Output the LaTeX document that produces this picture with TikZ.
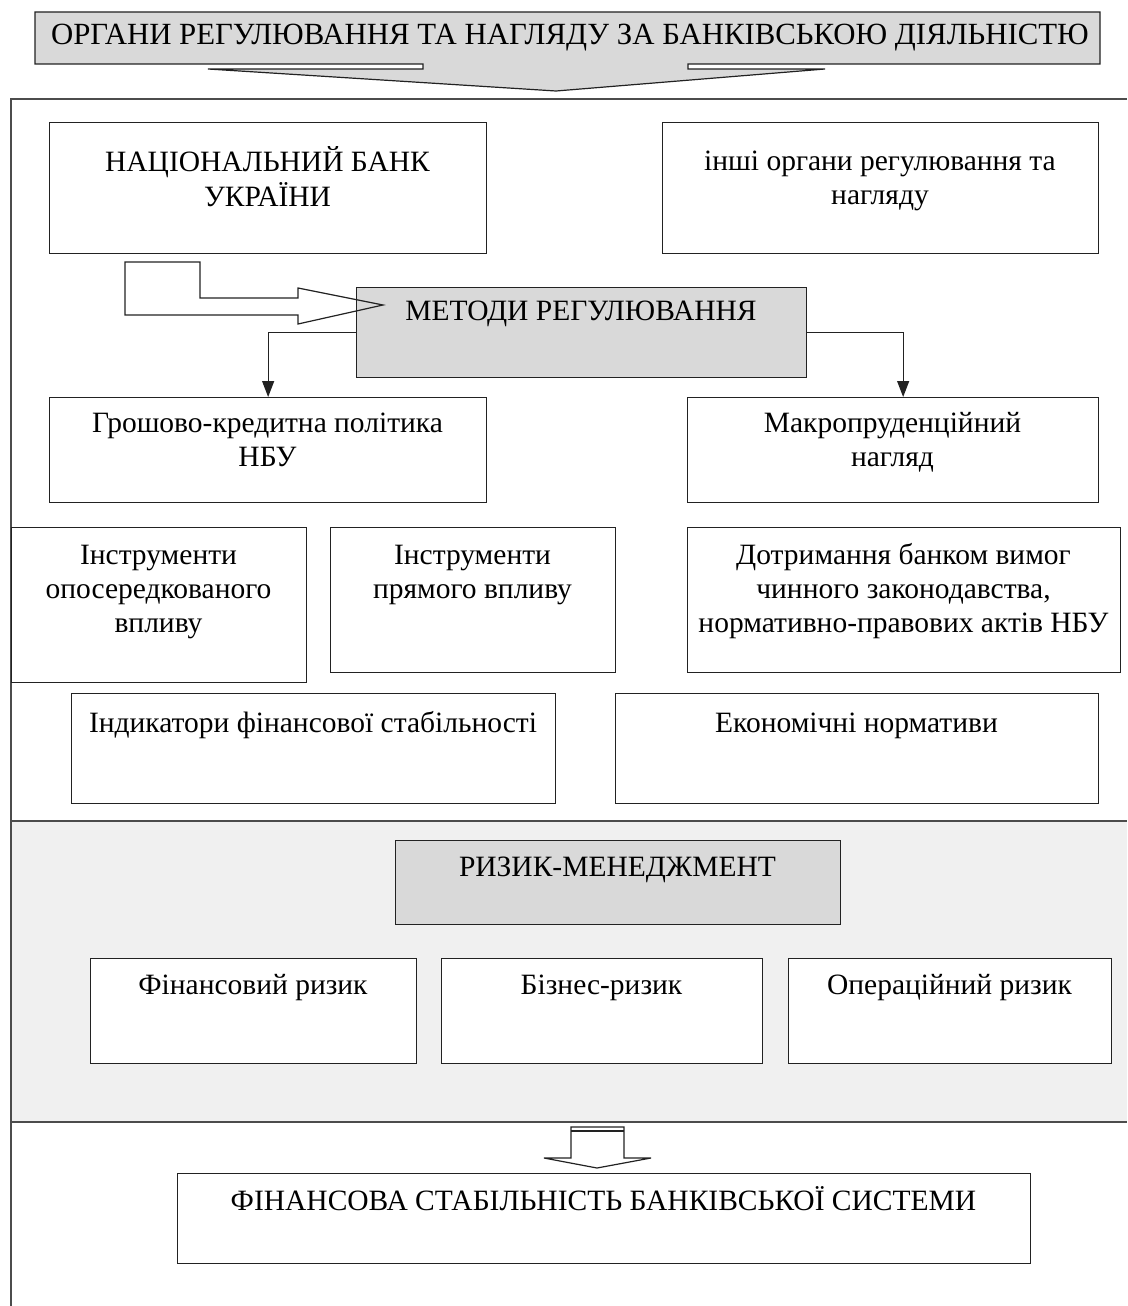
\documentclass[tikz,border=0pt]{standalone}
\usepackage{fontspec}
\setmainfont{Liberation Serif}
\usetikzlibrary{arrows.meta,calc}
\definecolor{boxgray}{HTML}{D9D9D9}
\definecolor{bandgray}{HTML}{F0F0F0}
\definecolor{edge}{HTML}{222222}
\begin{document}
\begin{tikzpicture}[x=1pt,y=-1pt,
  box/.style={draw=edge, line width=1.3pt, fill=white, inner sep=0pt, anchor=north west},
  graybox/.style={box, fill=boxgray},
  txt/.style={inner sep=0pt, anchor=north, align=center, font=\fontsize{29.5}{34}\selectfont},
  frameline/.style={draw=black!70, line width=1.6pt},
  conn/.style={draw=edge, line width=1.2pt, -{Triangle[length=16pt,width=12pt]}},
  hollow/.style={draw=edge, line width=1.2pt, line join=miter}
]
\useasboundingbox (0,0) rectangle (1127,1306);

% background band and frame
\fill[bandgray] (11,821) rectangle (1127,1122);
\draw[frameline] (11,1306) -- (11,99) -- (1127,99);
\draw[frameline] (11,821) -- (1127,821);
\draw[frameline] (11,1122) -- (1127,1122);

% top callout arrow
\draw[hollow, fill=boxgray] (35,12) -- (1100,12) -- (1100,64) -- (688,64) -- (688,69) -- (825,69)
  -- (556,91) -- (208,69) -- (423,69) -- (423,64) -- (35,64) -- cycle;
\node[inner sep=0pt, font=\fontsize{30.8}{34}\selectfont] (title) at (570,38)
  {ОРГАНИ РЕГУЛЮВАННЯ ТА НАГЛЯДУ ЗА БАНКІВСЬКОЮ ДІЯЛЬНІСТЮ};

% boxes
\node[box, minimum width=437pt, minimum height=131pt] (nbu) at (49,122) {};
\node[txt] (nbut) at (267.5,146) {\strut НАЦІОНАЛЬНИЙ БАНК\\УКРАЇНИ};
\node[box, minimum width=436pt, minimum height=131pt] (inshi) at (662,122) {};
\node[txt] (inshit) at (880,146) {\strut інші органи регулювання та\\нагляду};

\node[graybox, minimum width=450pt, minimum height=90pt] (meth) at (356,287) {};
\node[txt] (metht) at (581,296) {\strut МЕТОДИ РЕГУЛЮВАННЯ};

\node[box, minimum width=437pt, minimum height=105pt] (gro) at (49,397) {};
\node[txt] (grot) at (267.5,408) {\strut Грошово-кредитна політика\\НБУ};
\node[box, minimum width=411pt, minimum height=105pt] (mak) at (687,397) {};
\node[txt] (makt) at (892.5,408) {\strut Макропруденційний\\нагляд};

\node[box, minimum width=295pt, minimum height=155pt] (io) at (11,527) {};
\node[txt] (iot) at (158.5,540) {\strut Інструменти\\опосередкованого\\впливу};
\node[box, minimum width=285pt, minimum height=145pt] (ip) at (330,527) {};
\node[txt] (ipt) at (472.5,540) {\strut Інструменти\\прямого впливу};
\node[box, minimum width=433pt, minimum height=145pt] (dot) at (687,527) {};
\node[txt] (dott) at (903.5,540) {\strut Дотримання банком вимог\\чинного законодавства,\\нормативно-правових актів НБУ};

\node[box, minimum width=484pt, minimum height=110pt] (ind) at (71,693) {};
\node[txt] (indt) at (313,708) {\strut Індикатори фінансової стабільності};
\node[box, minimum width=483pt, minimum height=110pt] (eko) at (615,693) {};
\node[txt] (ekot) at (856.5,708) {\strut Економічні нормативи};

\node[graybox, minimum width=445pt, minimum height=84pt] (riz) at (395,840) {};
\node[txt] (rizt) at (617.5,852) {\strut РИЗИК-МЕНЕДЖМЕНТ};

\node[box, minimum width=326pt, minimum height=105pt] (fin) at (90,958) {};
\node[txt] (fint) at (253,970) {\strut Фінансовий ризик};
\node[box, minimum width=321pt, minimum height=105pt] (biz) at (441,958) {};
\node[txt] (bizt) at (601.5,970) {\strut Бізнес-ризик};
\node[box, minimum width=323pt, minimum height=105pt] (oper) at (788,958) {};
\node[txt] (opert) at (949.5,970) {\strut Операційний ризик};

\node[box, minimum width=853pt, minimum height=90pt] (fs) at (177,1173) {};
\node[txt] (fst) at (603.5,1186) {\strut ФІНАНСОВА СТАБІЛЬНІСТЬ БАНКІВСЬКОЇ СИСТЕМИ};

% connectors
\draw[conn] (meth.west) -| (gro.north);
\draw[conn] (meth.east) -| ([xshift=10pt]mak.north);

% hollow bent arrow from NBU to methods
\draw[hollow] (125,262) -- (200,262) -- (200,298) -- (298,298) -- (298,288) -- (383,305)
  -- (298,324) -- (298,315) -- (125,315) -- cycle;

% bottom hollow arrow
\draw[hollow, fill=white] (571,1127) -- (624,1127) -- (624,1158) -- (651,1158) -- (597,1168)
  -- (544,1158) -- (571,1158) -- cycle;
\draw[edge, line width=1.2pt] (571,1131) -- (624,1131);
\end{tikzpicture}
\end{document}
